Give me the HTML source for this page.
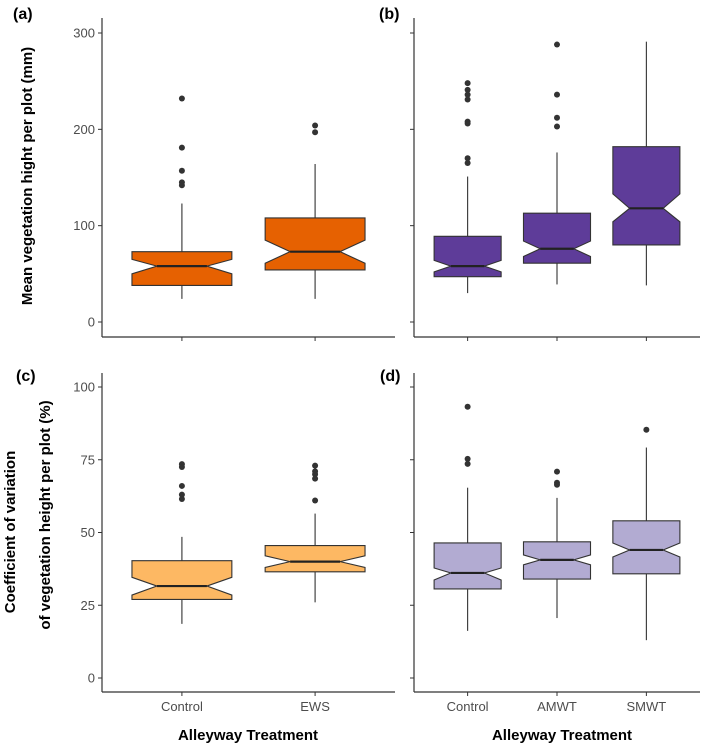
<!DOCTYPE html>
<html><head><meta charset="utf-8"><style>
html,body{margin:0;padding:0;background:#fff;}
svg{display:block;font-family:"Liberation Sans",Arial,sans-serif;}
.tick{font-size:13px;fill:#4d4d4d;}
.ttl{font-size:15px;font-weight:bold;fill:#000;}
.tag{font-size:16px;font-weight:bold;fill:#000;}
</style></head><body>
<svg id="fig" width="709" height="745" viewBox="0 0 709 745" xmlns="http://www.w3.org/2000/svg"></svg>
<script>
// Panel (a)
const catsA = ["Control","EWS"];
const statsA = [[24,38,50,58,65,73,123],[24,54,61,73,85,108,164]]; // lo,q1,notchLo,med,notchHi,q3,hi
const outA = [[232,181,157,145,142],[204,197]];
// Panel (b)
const catsB = ["Control","AMWT","SMWT"];
const statsB = [[30,47,52,58,64,89,151],[39,61,68,76,84,113,176],[38,80,104,118,133,182,291]];
const outB = [[248,241,236,231,208,206,170,165],[288,236,212,203],[]];
// Panel (c)
const catsC = ["Control","EWS"];
const statsC = [[18.6,27,28.5,31.6,34.6,40.3,48.5],[26,36.5,38,40,42,45.5,56.5]];
const outC = [[73.5,72.5,66,63,61.5],[73,71,70,68.5,61]];
// Panel (d)
const catsD = ["Control","AMWT","SMWT"];
const statsD = [[16.2,30.6,33.7,36.1,37.8,46.4,65.4],[20.6,34,38.9,40.6,42.3,46.8,61.9],[13,35.8,41.6,44,46.4,54,79.2]];
const outD = [[93.2,75.3,73.6],[70.9,67.1,66.4],[85.3]];
const ticksTop = [0,100,200,300];
const ticksBot = [0,25,50,75,100];

const NS="http://www.w3.org/2000/svg";
const svg=document.getElementById('fig');
function mk(tag,attrs,parent,text){const e=document.createElementNS(NS,tag);for(const k in attrs)e.setAttribute(k,attrs[k]);if(text!==undefined)e.textContent=text;(parent||svg).appendChild(e);return e;}

function panel(o){
  const g=mk('g',{});
  
  
  const y=v=>o.y0+(v-o.vmin)*(o.y1-o.y0)/(o.vmax-o.vmin);
  const n=o.cats.length, step=(o.xr-o.xl)/(n-1+1.2);
  const x=i=>o.xl+step*(0.6+i);
  const bw=step*0.75;
  // axes
  const ya=mk('line',{x1:o.xl,y1:o.top,x2:o.xl,y2:o.bottom,stroke:'#333','stroke-width':1.2},g);
  
  const xa=mk('line',{x1:o.xl,y1:o.bottom,x2:o.xr,y2:o.bottom,stroke:'#333','stroke-width':1.2},g);
  
  o.ticks.forEach(t=>{
    mk('line',{x1:o.xl-4,y1:y(t),x2:o.xl,y2:y(t),stroke:'#333','stroke-width':1},g);
    if(o.showY){const tl=mk('text',{x:o.xl-7,y:y(t)+4.5,'text-anchor':'end',class:'tick'},g,String(t));
      }
  });
  o.cats.forEach((c,i)=>{
    const cx=x(i), s=o.stats[i];
    mk('line',{x1:cx,y1:o.bottom,x2:cx,y2:o.bottom+4,stroke:'#333','stroke-width':1},g);
    if(o.showX){const tl=mk('text',{x:cx,y:o.bottom+19,'text-anchor':'middle',class:'tick'},g,c);
      }
    const bg=mk('g',{},g);
    
    
    mk('line',{x1:cx,y1:y(s[0]),x2:cx,y2:y(s[1]),stroke:'#333','stroke-width':1.1},bg);
    mk('line',{x1:cx,y1:y(s[5]),x2:cx,y2:y(s[6]),stroke:'#333','stroke-width':1.1},bg);
    const L=cx-bw/2,R=cx+bw/2,l2=cx-bw/4,r2=cx+bw/4;
    const pts=[[L,y(s[1])],[L,y(s[2])],[l2,y(s[3])],[L,y(s[4])],[L,y(s[5])],[R,y(s[5])],[R,y(s[4])],[r2,y(s[3])],[R,y(s[2])],[R,y(s[1])]];
    mk('polygon',{points:pts.map(p=>p.join(',')).join(' '),fill:o.fill,stroke:'#333','stroke-width':1.1},bg);
    mk('line',{x1:l2,y1:y(s[3]),x2:r2,y2:y(s[3]),stroke:'#222','stroke-width':2.2},bg);
    o.out[i].forEach(v=>{const d=mk('circle',{cx:cx,cy:y(v),r:3,fill:'#333'},bg);
      });
  });
}
panel({name:'panel-a',cats:catsA,stats:statsA,out:outA,ticks:ticksTop,vmin:0,vmax:300,y0:322,y1:33,top:18,bottom:337,xl:102,xr:395,fill:'#E66101',showY:true,showX:false});
panel({name:'panel-b',cats:catsB,stats:statsB,out:outB,ticks:ticksTop,vmin:0,vmax:300,y0:322,y1:33,top:18,bottom:337,xl:414,xr:700,fill:'#5E3C99',showY:false,showX:false});
panel({name:'panel-c',cats:catsC,stats:statsC,out:outC,ticks:ticksBot,vmin:0,vmax:100,y0:678,y1:387,top:373,bottom:692,xl:102,xr:395,fill:'#FDB863',showY:true,showX:true});
panel({name:'panel-d',cats:catsD,stats:statsD,out:outD,ticks:ticksBot,vmin:0,vmax:100,y0:678,y1:387,top:373,bottom:692,xl:414,xr:700,fill:'#B2ABD2',showY:false,showX:true});
</script>
<script>
(function(){
const NS="http://www.w3.org/2000/svg",svg=document.getElementById('fig');
function t(x,y,cls,txt,name,rot){const e=document.createElementNS(NS,'text');e.setAttribute('x',x);e.setAttribute('y',y);e.setAttribute('class',cls);e.setAttribute('text-anchor',cls==='tag'?'start':'middle');if(rot)e.setAttribute('transform','rotate(-90 '+x+' '+y+')');e.textContent=txt;


svg.appendChild(e);}
t(13,19,'tag','(a)','panel-a-label');
t(379,19,'tag','(b)','panel-b-label');
t(16,381,'tag','(c)','panel-c-label');
t(380,381,'tag','(d)','panel-d-label');
t(32,176,'ttl','Mean vegetation hight per plot (mm)','y-axis-title-top',true);
t(15,532,'ttl','Coefficient of variation','y-axis-title-bottom-line1',true);
t(50,515,'ttl','of vegetation height per plot (%)','y-axis-title-bottom-line2',true);
t(248,740,'ttl','Alleyway Treatment','x-axis-title-left');
t(562,740,'ttl','Alleyway Treatment','x-axis-title-right');
})();
</script>
</body></html>
